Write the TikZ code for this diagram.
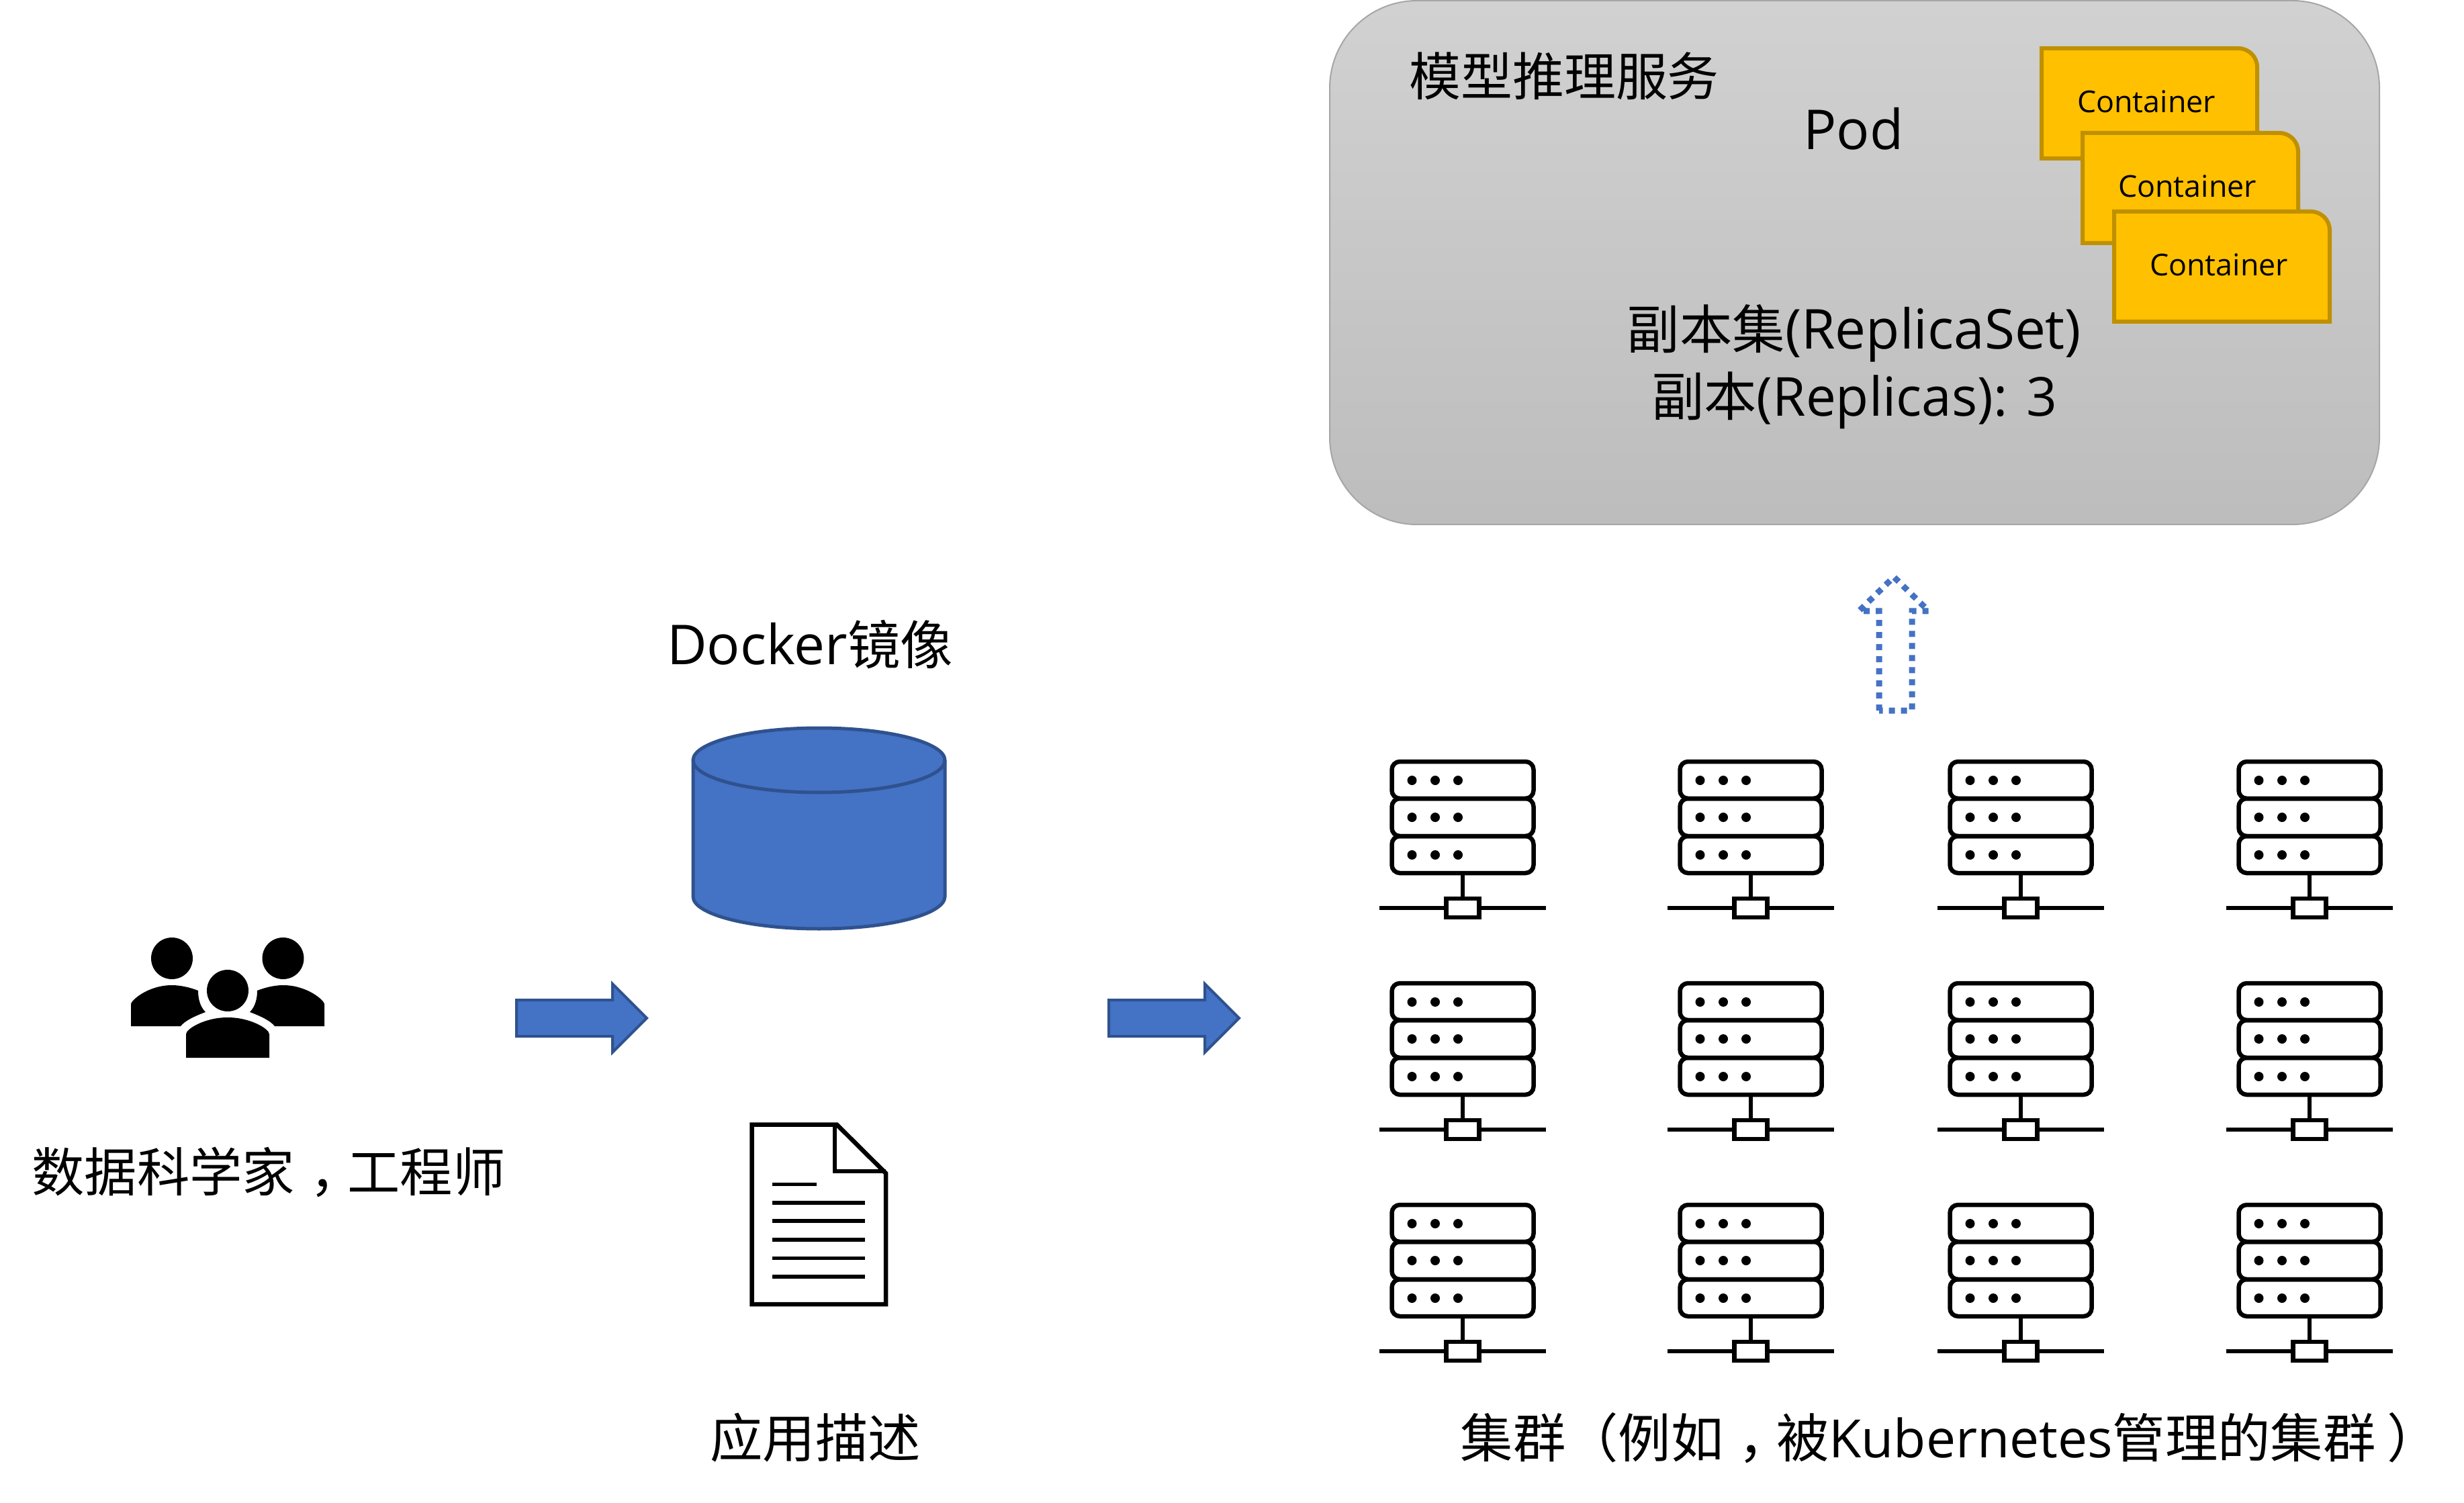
\documentclass[tikz,border=0pt]{standalone}
\usepackage{fontspec}
\setmainfont{Open Sans}[Scale=1.045]
\newfontfamily\cjk{Noto Sans CJK SC}
\usetikzlibrary{positioning}

\definecolor{arrowblue}{HTML}{4472C4}
\definecolor{arrowedge}{HTML}{2F528F}
\definecolor{podgold}{HTML}{FFC000}
\definecolor{podedge}{HTML}{BF9000}

\tikzset{
	biglabel/.style={inner sep=0pt, font=\fontsize{22.3}{28.5}\selectfont, align=center},
	smalllabel/.style={inner sep=0pt, font=\fontsize{12.2}{16}\selectfont},
	blockarrow/.style={fill=arrowblue, draw=arrowedge, line width=0.04cm},
	containerbox/.style={fill=podgold, draw=podedge, line width=0.06cm},
	iconline/.style={draw=black, line width=0.065cm},
}

% full width marks, moved towards the middle of their cell
\newcommand{\midcomma}{\kern0.28em，\kern-0.28em}
\newcommand{\midclose}{\kern0.22em）\kern-0.22em}

% one server with its network line, origin at top of the stem axis
\newcommand{\drawserver}[2]{
\begin{scope}[shift={(#1,#2)}]
\draw[iconline, rounded corners=0.12cm] (-1.055, 0) rectangle (1.055,-0.55);
\draw[iconline, rounded corners=0.12cm] (-1.055,-0.55) rectangle (1.055,-1.11);
\draw[iconline, rounded corners=0.12cm] (-1.055,-1.11) rectangle (1.055,-1.66);
\fill (-0.755,-0.28) circle (0.07cm);
\fill (-0.41,-0.28) circle (0.07cm);
\fill (-0.07,-0.28) circle (0.07cm);
\fill (-0.755,-0.83) circle (0.07cm);
\fill (-0.41,-0.83) circle (0.07cm);
\fill (-0.07,-0.83) circle (0.07cm);
\fill (-0.755,-1.39) circle (0.07cm);
\fill (-0.41,-1.39) circle (0.07cm);
\fill (-0.07,-1.39) circle (0.07cm);
\draw[iconline] (0,-1.66) -- (0,-2.04);
\draw[iconline] (-1.24,-2.18) -- (-0.245,-2.18);
\draw[iconline] (0.245,-2.18) -- (1.24,-2.18);
\draw[iconline] (-0.245,-2.04) rectangle (0.245,-2.32);
\end{scope}
}

\newcommand{\drawcontainer}[3]{
\filldraw[containerbox] (#1,#2) -- (#1+2.93,#2) arc (90:0:0.28) -- (#1+3.21,#2-1.64) -- (#1,#2-1.64) -- cycle;
\node[smalllabel] (#3) at (#1+1.56,#2-0.79) {Container};
}

\begin{document}
\begin{tikzpicture}

\useasboundingbox (0,0) rectangle (36.69,-22.38);

% model service
\draw[draw=black!35, line width=0.02cm, top color=black!18, bottom color=black!26, rounded corners=1.3cm] (19.8,-0.01) rectangle (35.43,-7.81);

\drawcontainer{30.40}{-0.72}{containerone}
\drawcontainer{31.01}{-1.98}{containertwo}
\drawcontainer{31.48}{-3.15}{containerthree}

\node[biglabel, font=\fontsize{21.9}{28.5}\selectfont] (servicelabel) at (23.29,-1.13) {\cjk 模型推理服务};
\node[biglabel] (podlabel) at (27.6,-1.92) {Pod};
\node[biglabel] (replicalabel) at (27.61,-5.46) {{\cjk 副本集}(ReplicaSet)\\{\cjk 副本}{\fontsize{21.8}{28.5}\selectfont (Replicas): 3}};

% dotted arrow up to the service
\draw[arrowblue, line width=0.09cm, dash pattern=on 0.09cm off 0.09cm, miter limit=4] (27.98,-10.58) -- (27.98,-9.10) -- (27.68,-9.10) -- (28.2,-8.59) -- (28.72,-9.10) -- (28.47,-9.10) -- (28.47,-10.58) -- cycle;

% people
\fill (2.56,-14.27) circle (0.31cm);
\fill (4.215,-14.27) circle (0.31cm);
\fill (3.39,-14.75) circle (0.31cm);
\fill (1.95,-15.28) -- (1.95,-14.95) .. controls (1.95,-14.9) and (2.2,-14.67) .. (2.56,-14.67) .. controls (2.7,-14.67) and (2.85,-14.71) .. (2.95,-14.75) .. controls (2.95,-14.85) and (2.97,-14.98) .. (3.06,-15.07) .. controls (2.9,-15.13) and (2.75,-15.2) .. (2.69,-15.28) -- cycle;
\fill (4.83,-15.28) -- (4.83,-14.95) .. controls (4.83,-14.9) and (4.58,-14.67) .. (4.215,-14.67) .. controls (4.08,-14.67) and (3.93,-14.71) .. (3.83,-14.75) .. controls (3.83,-14.85) and (3.81,-14.98) .. (3.72,-15.07) .. controls (3.88,-15.13) and (4.03,-15.2) .. (4.09,-15.28) -- cycle;
\fill (2.77,-15.75) -- (2.77,-15.4) .. controls (2.77,-15.32) and (3.05,-15.15) .. (3.39,-15.15) .. controls (3.73,-15.15) and (4.01,-15.32) .. (4.01,-15.4) -- (4.01,-15.75) -- cycle;

\node[biglabel] (peoplelabel) at (4.0,-17.45) {\cjk 数据科学家\midcomma 工程师};

% block arrows
\filldraw[blockarrow] (7.69,-14.89) -- (9.12,-14.89) -- (9.12,-14.65) -- (9.63,-15.16) -- (9.12,-15.67) -- (9.12,-15.43) -- (7.69,-15.43) -- cycle;
\filldraw[blockarrow] (16.51,-14.89) -- (17.94,-14.89) -- (17.94,-14.65) -- (18.45,-15.16) -- (17.94,-15.67) -- (17.94,-15.43) -- (16.51,-15.43) -- cycle;

% docker image
\node[biglabel] (imagelabel) at (12.06,-9.6) {Docker{\cjk 镜像}};
\filldraw[blockarrow, line width=0.05cm] (10.32,-11.32) -- (10.32,-13.35) arc (180:360:1.875 and 0.48) -- (14.07,-11.32) arc (0:180:1.875 and 0.48) -- cycle;
\draw[arrowedge, line width=0.05cm] (10.32,-11.32) arc (180:360:1.875 and 0.48);

% document
\draw[iconline] (11.195,-16.745) -- (12.46,-16.745) -- (13.19,-17.47) -- (13.19,-19.42) -- (11.195,-19.42) -- cycle;
\draw[iconline] (12.43,-16.745) -- (12.43,-17.44) -- (13.19,-17.44);
\draw[black, line width=0.055cm] (11.5,-17.635) -- (12.16,-17.635);
\draw[black, line width=0.055cm] (11.5,-17.91) -- (12.88,-17.91);
\draw[black, line width=0.055cm] (11.5,-18.18) -- (12.88,-18.18);
\draw[black, line width=0.055cm] (11.5,-18.46) -- (12.88,-18.46);
\draw[black, line width=0.055cm] (11.5,-18.735) -- (12.88,-18.735);
\draw[black, line width=0.055cm] (11.5,-19.01) -- (12.88,-19.01);

\node[biglabel] (speclabel) at (12.14,-21.41) {\cjk 应用描述};

% cluster
\drawserver{21.78}{-11.34}
\drawserver{26.07}{-11.34}
\drawserver{30.09}{-11.34}
\drawserver{34.39}{-11.34}

\drawserver{21.78}{-14.64}
\drawserver{26.07}{-14.64}
\drawserver{30.09}{-14.64}
\drawserver{34.39}{-14.64}

\drawserver{21.78}{-17.94}
\drawserver{26.07}{-17.94}
\drawserver{30.09}{-17.94}
\drawserver{34.39}{-17.94}

\node[biglabel, anchor=west] (clusterlabel) at (21.74,-21.41) {{\cjk 集群（例如\midcomma 被}{\fontsize{21.4}{28.5}\selectfont Kubernetes}{\cjk 管理的集群\midclose}};

\end{tikzpicture}
\end{document}
